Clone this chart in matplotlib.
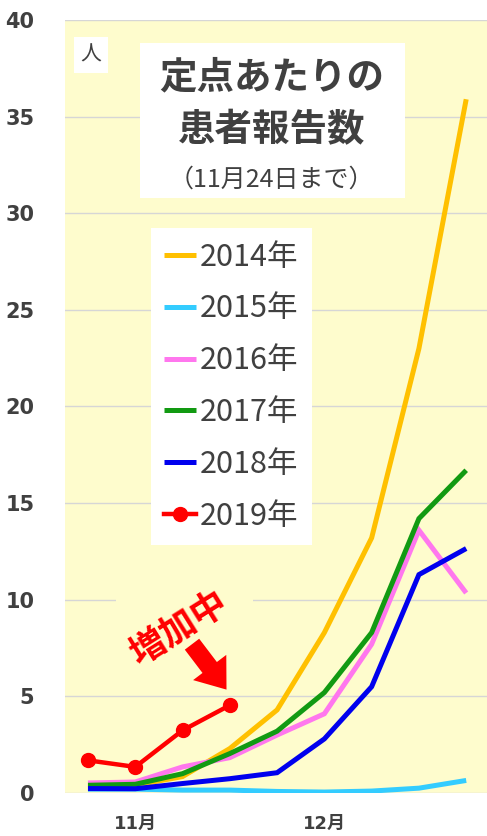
import matplotlib
matplotlib.use('Agg')
import matplotlib.pyplot as plt
from matplotlib.patches import Rectangle

plt.rcParams['font.family'] = ['Noto Sans CJK JP', 'DejaVu Sans']

# weekly points, 11月 at index 1, 12月 at index 5
week_labels = ['', '11月', '', '', '', '12月', '', '', '']
weeks = list(range(len(week_labels)))

y2014 = [0.3, 0.4, 0.85, 2.3, 4.3, 8.3, 13.2, 23.0, 35.9]
y2015 = [0.2, 0.2, 0.15, 0.15, 0.08, 0.05, 0.1, 0.25, 0.65]
y2016 = [0.52, 0.57, 1.35, 1.83, 3.0, 4.1, 7.7, 13.6, 10.35]
y2017 = [0.4, 0.45, 1.0, 2.04, 3.2, 5.2, 8.3, 14.2, 16.7]
y2018 = [0.23, 0.22, 0.49, 0.74, 1.05, 2.8, 5.5, 11.3, 12.65]
y2019 = [1.69, 1.35, 3.24, 4.54]

series = [
    ('2014年', y2014, '#FFC000'),
    ('2015年', y2015, '#33CCFF'),
    ('2016年', y2016, '#FF77EE'),
    ('2017年', y2017, '#129A12'),
    ('2018年', y2018, '#0000EE'),
]

tick_font = ['DejaVu Sans', 'Noto Sans CJK JP']

fig = plt.figure(figsize=(4.87, 8.36), dpi=100)
ax = fig.add_axes([65 / 487, 1 - 793 / 836, 422 / 487, 773 / 836])
ax.set_facecolor('#FEFCCD')

for name, vals, col in series:
    ax.plot(weeks[:len(vals)], vals, color=col, lw=3.6, label=name,
            solid_capstyle='butt', solid_joinstyle='miter')
ax.plot(weeks[:len(y2019)], y2019, color='#FF0000', lw=3.2, marker='o',
        markersize=10, label='2019年', zorder=5)

ax.set_xlim(-0.486, 8.44)
ax.set_ylim(0, 40)
ax.set_yticks(range(0, 41, 5))
ax.set_xticks(weeks)
ax.set_xticklabels(week_labels)
ax.grid(axis='y', color='#D6D6D6', lw=1)
ax.set_axisbelow(True)
for s in ax.spines.values():
    s.set_visible(False)
ax.tick_params(length=0, colors='#404040', pad=22)
ax.tick_params(axis='x', pad=16)
for lab in ax.get_yticklabels():
    lab.set_fontweight('bold')
    lab.set_fontfamily(tick_font)
    lab.set_fontsize(15)
for lab in ax.get_xticklabels():
    lab.set_fontweight('bold')
    lab.set_fontfamily(tick_font)
    lab.set_fontsize(13)

# title box
ax.add_patch(Rectangle((0.178, 0.770), 0.628, 0.200, transform=ax.transAxes,
                       facecolor='white', edgecolor='none', zorder=3))
ax.text(0.49, 0.927, '定点あたりの', transform=ax.transAxes, ha='center', va='center',
        fontsize=27, fontweight='bold', color='#404040', zorder=4)
ax.text(0.49, 0.858, '患者報告数', transform=ax.transAxes, ha='center', va='center',
        fontsize=27, fontweight='bold', color='#404040', zorder=4)
ax.text(0.49, 0.794, '（11月24日まで）', transform=ax.transAxes, ha='center', va='center',
        fontsize=18, color='#404040', zorder=4)

# unit box
ax.text(0.062, 0.955, '人', transform=ax.transAxes, ha='center', va='center',
        fontsize=15, color='#404040', zorder=4,
        bbox=dict(facecolor='white', edgecolor='none', pad=5))

# legend
leg = ax.legend(loc='upper left', bbox_to_anchor=(0.203, 0.731), fontsize=22,
                frameon=True, fancybox=False, framealpha=1, edgecolor='none',
                handlelength=1.05, handletextpad=0.12, labelspacing=0.68,
                borderpad=0.45, borderaxespad=0)
for t in leg.get_texts():
    t.set_color('#404040')
leg.set_zorder(6)

# annotation
ax.add_patch(Rectangle((0.6, 7.2), 2.9, 3.3, facecolor='#FEFCCD', edgecolor='none', zorder=1))
ax.text(1.92, 8.5, '増加中', rotation=32, ha='center', va='center', fontsize=26,
        fontweight='bold', color='#FF0000', zorder=6)
ax.annotate('', xy=(2.93, 5.35), xytext=(2.2, 7.7),
            arrowprops=dict(arrowstyle='simple,head_width=3.0,head_length=2.0,tail_width=1.3',
                            color='#FF0000', lw=0, shrinkA=0, shrinkB=0), zorder=6)

fig.savefig('out.png', dpi=100)
